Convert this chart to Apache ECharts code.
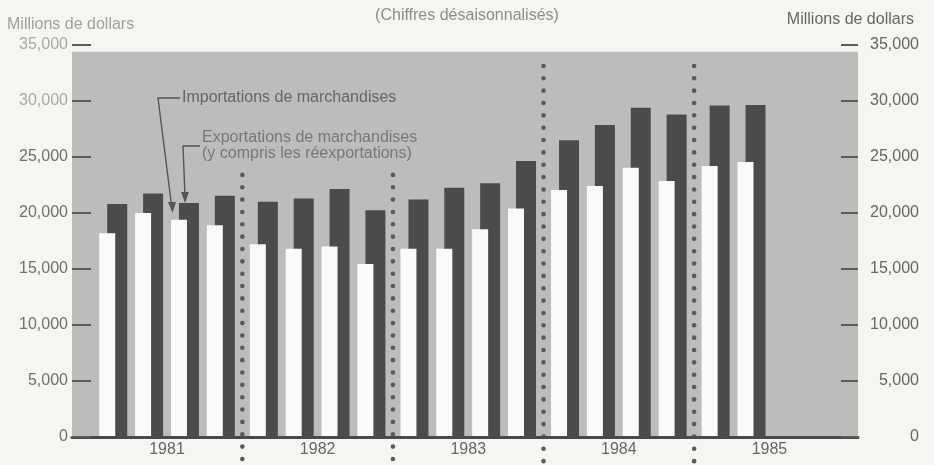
<!DOCTYPE html>
<html>
<head>
<meta charset="utf-8">
<script src="https://cdn.jsdelivr.net/npm/echarts@6/dist/echarts.min.js"></script>
<style>
  html, body { margin: 0; padding: 0; background: #f5f5f2; }
  #chart { width: 934px; height: 465px; }
</style>
</head>
<body>
<div id="chart"></div>
<script>
// données trimestrielles, millions de dollars (désaisonnalisées)
const years = ['1981', '1982', '1983', '1984', '1985'];
const quarters = [
  '1981 T1', '1981 T2', '1981 T3', '1981 T4',
  '1982 T1', '1982 T2', '1982 T3', '1982 T4',
  '1983 T1', '1983 T2', '1983 T3', '1983 T4',
  '1984 T1', '1984 T2', '1984 T3', '1984 T4',
  '1985 T1', '1985 T2'
];
const exportsData = [18200, 20000, 19400, 18900, 17200, 16800, 17000, 15450, 16800, 16800, 18550, 20400, 22050, 22400, 24050, 22850, 24200, 24550];
const importsData = [20800, 21750, 20900, 21550, 21000, 21300, 22150, 20250, 21200, 22250, 22650, 24650, 26500, 27850, 29400, 28800, 29600, 29650];
const yTicks = [0, 5000, 10000, 15000, 20000, 25000, 30000, 35000];

// un peu plus d'espace entre les années
const yearStep = 4.2;
const pos = i => Math.floor(i / 4) * yearStep + (i % 4);
const yearCenters = years.map((y, k) => k * yearStep + 1.5);
// séparateurs pointillés entre les années (haut de chaque ligne)
const sepTops = [23400, 23400, 33130, 33130];
const sepData = sepTops.map((t, k) => [k * yearStep + 3.6, t]);

const fmt = v => Number(v).toLocaleString('en-US');
const font = "'Liberation Sans', Arial, sans-serif";

const chart = echarts.init(document.getElementById('chart'));

chart.setOption({
  backgroundColor: '#f5f5f2',
  animation: false,
  textStyle: { fontFamily: font },
  grid: { left: 72, right: 76, top: 45, bottom: 28 },
  xAxis: {
    type: 'value',
    min: -1.15,
    max: 20.77,
    z: 6,
    axisLine: { onZero: false, lineStyle: { color: '#4a4a4a', width: 3 } },
    axisTick: { show: false },
    splitLine: { show: false },
    axisLabel: {
      customValues: yearCenters,
      formatter: v => years[Math.round((v - 1.5) / yearStep)],
      color: '#666',
      fontSize: 16,
      margin: 5
    }
  },
  yAxis: [
    {
      type: 'value', position: 'left', min: 0, max: 35000, interval: 5000, z: 6,
      axisLine: { show: false, onZero: false },
      axisTick: { show: true, inside: true, length: 19, lineStyle: { color: '#5a5a5a', width: 2 } },
      splitLine: { show: false },
      axisLabel: {
        customValues: yTicks, formatter: fmt, fontSize: 16, margin: 4,
        color: v => (v >= 30000 ? '#a8a8a8' : '#707070')
      }
    },
    {
      type: 'value', position: 'right', min: 0, max: 35000, interval: 5000, z: 6,
      axisLine: { show: false, onZero: false },
      axisTick: { show: true, inside: true, length: 17, lineStyle: { color: '#5a5a5a', width: 2 } },
      splitLine: { show: false },
      axisLabel: { customValues: yTicks, formatter: fmt, color: '#666', fontSize: 16, margin: 61, align: 'right' }
    }
  ],
  series: [
    {
      name: 'Exportations de marchandises',
      type: 'bar',
      barWidth: 16,
      barGap: '-50%',
      z: 3,
      itemStyle: { color: '#fafaf8' },
      data: exportsData.map((v, i) => [pos(i), v])
    },
    {
      name: 'Importations de marchandises',
      type: 'bar',
      barWidth: 20,
      z: 2,
      itemStyle: { color: '#4b4b4b' },
      data: importsData.map((v, i) => [pos(i), v]),
      markArea: {
        silent: true,
        itemStyle: { color: '#bcbcba' },
        data: [[{ yAxis: 0 }, { yAxis: 34400 }]]
      }
    },
    {
      type: 'custom',
      z: 4,
      silent: true,
      data: sepData,
      renderItem: (params, api) => {
        const top = api.coord([api.value(0), api.value(1)]);
        const base = api.coord([api.value(0), 0]);
        const dots = [];
        for (let y = top[1]; y <= base[1] + 27; y += 12.35) {
          dots.push({ type: 'circle', shape: { cx: top[0], cy: y, r: 2.3 }, style: { fill: '#5a5a5a' } });
        }
        return { type: 'group', children: dots };
      }
    }
  ],
  graphic: [
    { type: 'text', left: 'center', top: 8, silent: true,
      style: { text: '(Chiffres désaisonnalisés)', font: '16px ' + font, fill: '#8c8c8c' } },
    { type: 'text', left: 7, top: 17, silent: true,
      style: { text: 'Millions de dollars', font: '16px ' + font, fill: '#a0a0a0' } },
    { type: 'text', right: 20, top: 12, silent: true,
      style: { text: 'Millions de dollars', font: '16px ' + font, fill: '#666' } },
    { type: 'text', left: 182, top: 90, silent: true, z: 10,
      style: { text: 'Importations de marchandises', font: '16px ' + font, fill: '#666' } },
    { type: 'text', left: 202, top: 130, silent: true, z: 10,
      style: { text: 'Exportations de marchandises\n(y compris les réexportations)', font: '16px ' + font, fill: '#777', lineHeight: 16 } },
    { type: 'polyline', silent: true, z: 10,
      shape: { points: [[180, 98], [158, 98], [171.5, 205]] },
      style: { stroke: '#555', lineWidth: 1.4, fill: null } },
    { type: 'polygon', silent: true, z: 10,
      shape: { points: [[172.5, 213], [168, 202], [176, 202]] },
      style: { fill: '#555' } },
    { type: 'polyline', silent: true, z: 10,
      shape: { points: [[200, 146], [183, 146], [185, 196]] },
      style: { stroke: '#555', lineWidth: 1.4, fill: null } },
    { type: 'polygon', silent: true, z: 10,
      shape: { points: [[185, 203], [181, 192], [189, 192]] },
      style: { fill: '#555' } }
  ]
});
</script>
</body>
</html>
